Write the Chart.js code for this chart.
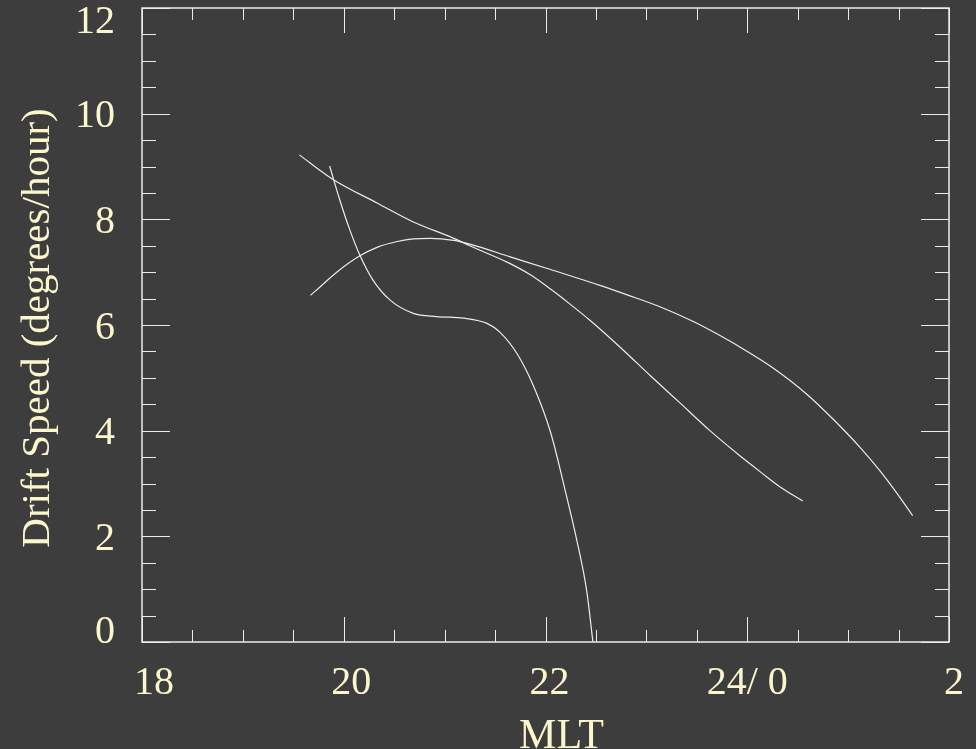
<!DOCTYPE html>
<html>
<head>
<meta charset="utf-8">
<script src="https://cdn.jsdelivr.net/npm/chart.js@4/dist/chart.umd.min.js"></script>
<style>
  html, body { margin: 0; padding: 0; background: #3d3d3d; overflow: hidden; }
  canvas { display: block; }
</style>
</head>
<body>
<canvas id="drift" width="976" height="749"></canvas>
<script>
// ---- data (MLT hours, drift speed deg/hour) ----
const curveAx = [19.56, 19.89, 20.33, 20.69, 21.08, 21.25, 21.63, 21.85, 22.05, 22.24, 22.44, 22.74, 23.04, 23.33, 23.63, 23.93, 24.13, 24.33, 24.55];
const curveAy = [9.22, 8.76, 8.31, 7.95, 7.65, 7.50, 7.18, 6.95, 6.68, 6.40, 6.09, 5.58, 5.04, 4.53, 4.00, 3.52, 3.22, 2.93, 2.67];

const curveBx = [19.67, 19.77, 19.93, 20.16, 20.33, 20.53, 20.69, 20.86, 21.09, 21.25, 21.65, 22.05, 22.54, 22.81, 23.14, 23.46, 23.73, 24.00, 24.26, 24.59, 24.85, 25.12, 25.32, 25.49, 25.64];
const curveBy = [6.56, 6.73, 7.00, 7.31, 7.47, 7.58, 7.63, 7.64, 7.60, 7.53, 7.29, 7.05, 6.75, 6.57, 6.34, 6.07, 5.80, 5.50, 5.18, 4.69, 4.22, 3.68, 3.23, 2.80, 2.39];

const curveCx = [19.86, 19.96, 20.06, 20.16, 20.29, 20.46, 20.69, 20.92, 21.19, 21.42, 21.55, 21.72, 21.88, 22.05, 22.21, 22.31, 22.41, 22.47];
const curveCy = [9.01, 8.37, 7.80, 7.32, 6.85, 6.47, 6.22, 6.16, 6.13, 6.03, 5.86, 5.45, 4.85, 3.97, 2.75, 1.93, 0.95, 0.0];

const xTicks = [18, 20, 22, 24, 26];
const xTickLabels = ['18', '20', '22', '24/ 0', '2'];
const yTicks = [0, 2, 4, 6, 8, 10, 12];
const xTitle = 'MLT';
const yTitle = 'Drift Speed (degrees/hour)';

const TEXT = '#fbf6cc';
const LINE = '#ececec';
const SERIF = "'Liberation Serif', 'Times New Roman', serif";

function pts(xs, ys) {
  return xs.map((x, i) => ({ x: x, y: ys[i] }));
}

// box round the plot with inward major/minor ticks on all four sides
const framePlugin = {
  id: 'frame',
  afterDraw(chart) {
    const { ctx, chartArea: a, scales: { x, y } } = chart;
    ctx.save();
    ctx.strokeStyle = LINE;
    ctx.lineWidth = 1.5;
    ctx.strokeRect(a.left, a.top, a.right - a.left, a.bottom - a.top);
    ctx.lineWidth = 1;
    ctx.beginPath();
    for (let v = x.min; v <= x.max + 1e-9; v += 0.5) {
      const px = Math.round(x.getPixelForValue(v)) + 0.5;
      const len = v % 2 === 0 ? 25 : 12;
      ctx.moveTo(px, a.bottom); ctx.lineTo(px, a.bottom - len);
      ctx.moveTo(px, a.top); ctx.lineTo(px, a.top + len);
    }
    for (let v = y.min; v <= y.max + 1e-9; v += 0.5) {
      const py = Math.round(y.getPixelForValue(v)) + 0.5;
      const len = v % 2 === 0 ? 28 : 14;
      ctx.moveTo(a.left, py); ctx.lineTo(a.left + len, py);
      ctx.moveTo(a.right, py); ctx.lineTo(a.right - len, py);
    }
    ctx.stroke();
    ctx.restore();
  }
};

// tick labels and axis titles, placed like the original (end labels pulled inside)
const textPlugin = {
  id: 'axisText',
  afterDraw(chart) {
    const { ctx, chartArea: a, scales: { x, y } } = chart;
    const xShift = [12, 7.5, 4, 0, 5];
    ctx.save();
    ctx.fillStyle = TEXT;
    ctx.textBaseline = 'alphabetic';
    ctx.font = '40px ' + SERIF;

    ctx.textAlign = 'center';
    xTicks.forEach((v, i) => {
      ctx.fillText(xTickLabels[i], x.getPixelForValue(v) + xShift[i], a.bottom + 51.5);
    });

    ctx.textAlign = 'right';
    yTicks.forEach(v => {
      let shift = 0;
      if (v === y.max) shift = 11.5;
      if (v === y.min) shift = -13;
      ctx.fillText(String(v), a.left - 27, y.getPixelForValue(v) + 13.5 + shift);
    });

    ctx.textAlign = 'center';
    ctx.font = '42px ' + SERIF;
    ctx.fillText(xTitle, (a.left + a.right) / 2 + 16, a.bottom + 105.5);

    ctx.font = '41px ' + SERIF;
    ctx.translate(48.5, (a.top + a.bottom) / 2 + 3);
    ctx.rotate(-Math.PI / 2);
    ctx.fillText(yTitle, 0, 0);
    ctx.restore();
  }
};

const lineStyle = {
  showLine: true,
  pointRadius: 0,
  borderColor: LINE,
  borderWidth: 1.2,
  cubicInterpolationMode: 'monotone',
  fill: false
};

new Chart(document.getElementById('drift'), {
  type: 'scatter',
  data: {
    datasets: [
      Object.assign({ label: 'A', data: pts(curveAx, curveAy) }, lineStyle),
      Object.assign({ label: 'B', data: pts(curveBx, curveBy) }, lineStyle),
      Object.assign({ label: 'C', data: pts(curveCx, curveCy) }, lineStyle)
    ]
  },
  options: {
    responsive: false,
    animation: false,
    devicePixelRatio: 1,
    layout: { padding: { left: 0, top: 8, right: 27, bottom: 0 } },
    plugins: { legend: { display: false }, tooltip: { enabled: false } },
    scales: {
      x: {
        type: 'linear',
        min: 18,
        max: 26,
        grid: { display: false, drawTicks: false },
        border: { display: false },
        afterBuildTicks: s => { s.ticks = xTicks.map(v => ({ value: v })); },
        afterFit: s => { s.height = 107; s.paddingLeft = 0; s.paddingRight = 0; },
        ticks: { display: false }
      },
      y: {
        type: 'linear',
        min: 0,
        max: 12,
        grid: { display: false, drawTicks: false },
        border: { display: false },
        afterBuildTicks: s => { s.ticks = yTicks.map(v => ({ value: v })); },
        afterFit: s => { s.width = 142; s.paddingTop = 0; s.paddingBottom = 0; },
        ticks: { display: false }
      }
    }
  },
  plugins: [framePlugin, textPlugin]
});
</script>
</body>
</html>
